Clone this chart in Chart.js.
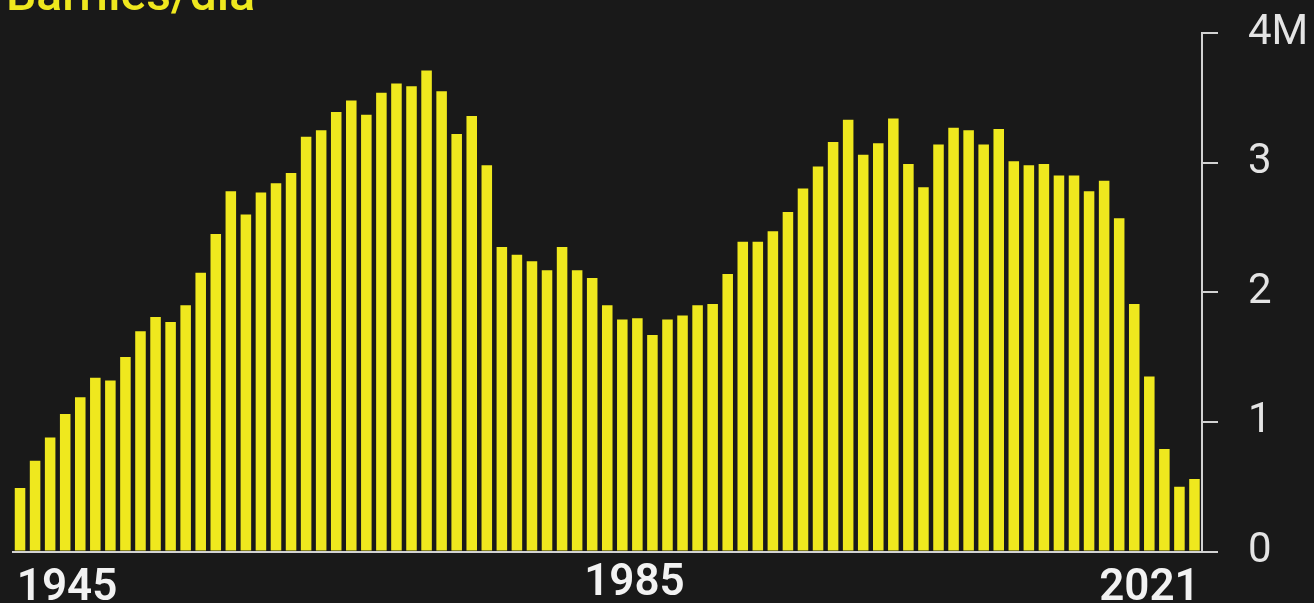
<!DOCTYPE html>
<html>
<head>
<meta charset="utf-8">
<script src="https://cdn.jsdelivr.net/npm/chart.js@4/dist/chart.umd.min.js"></script>
<style>
  html, body { margin: 0; padding: 0; background: #191919; overflow: hidden; }
  #wrap { position: relative; width: 1314px; height: 603px; background: #191919; }
  #title { position: absolute; left: 6px; top: -30px; margin: 0; font: 500 48px Roboto, "DejaVu Sans", sans-serif; line-height: 48px; color: #efe81e; white-space: nowrap; }
  canvas { display: block; position: absolute; left: 0; top: 0; }
</style>
</head>
<body>
<div id="wrap">
  <canvas id="c" width="1314" height="603"></canvas>
  <div id="title">Barriles/día</div>
</div>
<script>
// Categories: years
const years = Array.from({ length: 2021 - 1943 + 1 }, (_, i) => String(1943 + i));

// Production, millions of barrels per day
const production = [
  0.49, 0.70, 0.88, 1.06, 1.19, 1.34, 1.32, 1.50, 1.70, 1.81, 1.77, 1.90, 2.15, 2.45,
  2.78, 2.60, 2.77, 2.84, 2.92, 3.20, 3.25, 3.39, 3.48, 3.37, 3.54, 3.61, 3.59,
  3.71, 3.55, 3.22, 3.36, 2.98, 2.35, 2.29, 2.24, 2.17, 2.35, 2.17, 2.11, 1.90,
  1.79, 1.80, 1.67, 1.79, 1.82, 1.90, 1.91, 2.14, 2.39, 2.39, 2.47, 2.62, 2.80,
  2.97, 3.16, 3.33, 3.06, 3.15, 3.34, 2.99, 2.81, 3.14, 3.27, 3.25, 3.14, 3.26,
  3.01, 2.98, 2.99, 2.90, 2.90, 2.78, 2.86, 2.57, 1.91, 1.35, 0.79, 0.50, 0.56
];

// Tick labels
const yTickValues = [0, 1, 2, 3, 4];
const yTickLabels = ['0', '1', '2', '3', '4M'];
const xTickLabels = ['1945', '1985', '2021'];

const BAR_COLOR = '#efe81e';
const AXIS_COLOR = '#d2d2d2';
const FONT = 'Roboto, "DejaVu Sans", sans-serif';
const BAR_PCT = 0.7;

const xLabelPlugin = {
  id: 'xLabels',
  afterDraw(chart) {
    const xs = chart.scales.x;
    const ctx = chart.ctx;
    const step = xs.getPixelForValue(1) - xs.getPixelForValue(0);
    const half = step * BAR_PCT / 2;
    const n = xTickLabels.length;
    ctx.save();
    ctx.fillStyle = '#f2f2f2';
    ctx.font = '600 44px ' + FONT;
    ctx.textBaseline = 'alphabetic';
    const base = xs.bottom + 48;
    xTickLabels.forEach((lab, k) => {
      let x;
      if (k === 0) {
        ctx.textAlign = 'left';
        x = xs.getPixelForValue(0) - half + 2;
      } else if (k === n - 1) {
        ctx.textAlign = 'right';
        x = xs.getPixelForValue(years.length - 1) + half;
      } else {
        ctx.textAlign = 'center';
        x = xs.getPixelForValue(years.indexOf(lab)) - 18;
      }
      ctx.fillText(lab, x, k === 0 || k === n - 1 ? base : base - 5);
    });
    ctx.restore();
  }
};

new Chart(document.getElementById('c'), {
  type: 'bar',
  data: {
    labels: years,
    datasets: [{
      data: production,
      backgroundColor: BAR_COLOR,
      borderWidth: 0,
      barPercentage: BAR_PCT,
      categoryPercentage: 1.0
    }]
  },
  options: {
    responsive: false,
    animation: false,
    devicePixelRatio: 1,
    layout: { padding: { left: 12.5, top: 33, bottom: 51.5, right: 0 } },
    plugins: { legend: { display: false }, tooltip: { enabled: false }, title: { display: false } },
    scales: {
      x: {
        type: 'category',
        offset: true,
        ticks: { display: false },
        grid: { display: true, drawOnChartArea: false, drawTicks: false },
        border: { display: true, color: AXIS_COLOR, width: 2 },
        afterFit: s => { s.height = 0; }
      },
      y: {
        position: 'right',
        min: 0,
        max: 4,
        afterBuildTicks: s => { s.ticks = yTickValues.map(v => ({ value: v })); },
        ticks: {
          callback: v => yTickLabels[yTickValues.indexOf(v)],
          color: '#e4e4e4',
          font: { family: FONT, size: 42, weight: '400' },
          padding: 30
        },
        grid: { display: true, drawOnChartArea: false, drawTicks: true, tickLength: 16, color: AXIS_COLOR, lineWidth: 2 },
        border: { display: true, color: AXIS_COLOR, width: 2 },
        afterFit: s => { s.width = 112; s.paddingTop = 0; s.paddingBottom = 0; }
      }
    }
  },
  plugins: [xLabelPlugin]
});
</script>
</body>
</html>
